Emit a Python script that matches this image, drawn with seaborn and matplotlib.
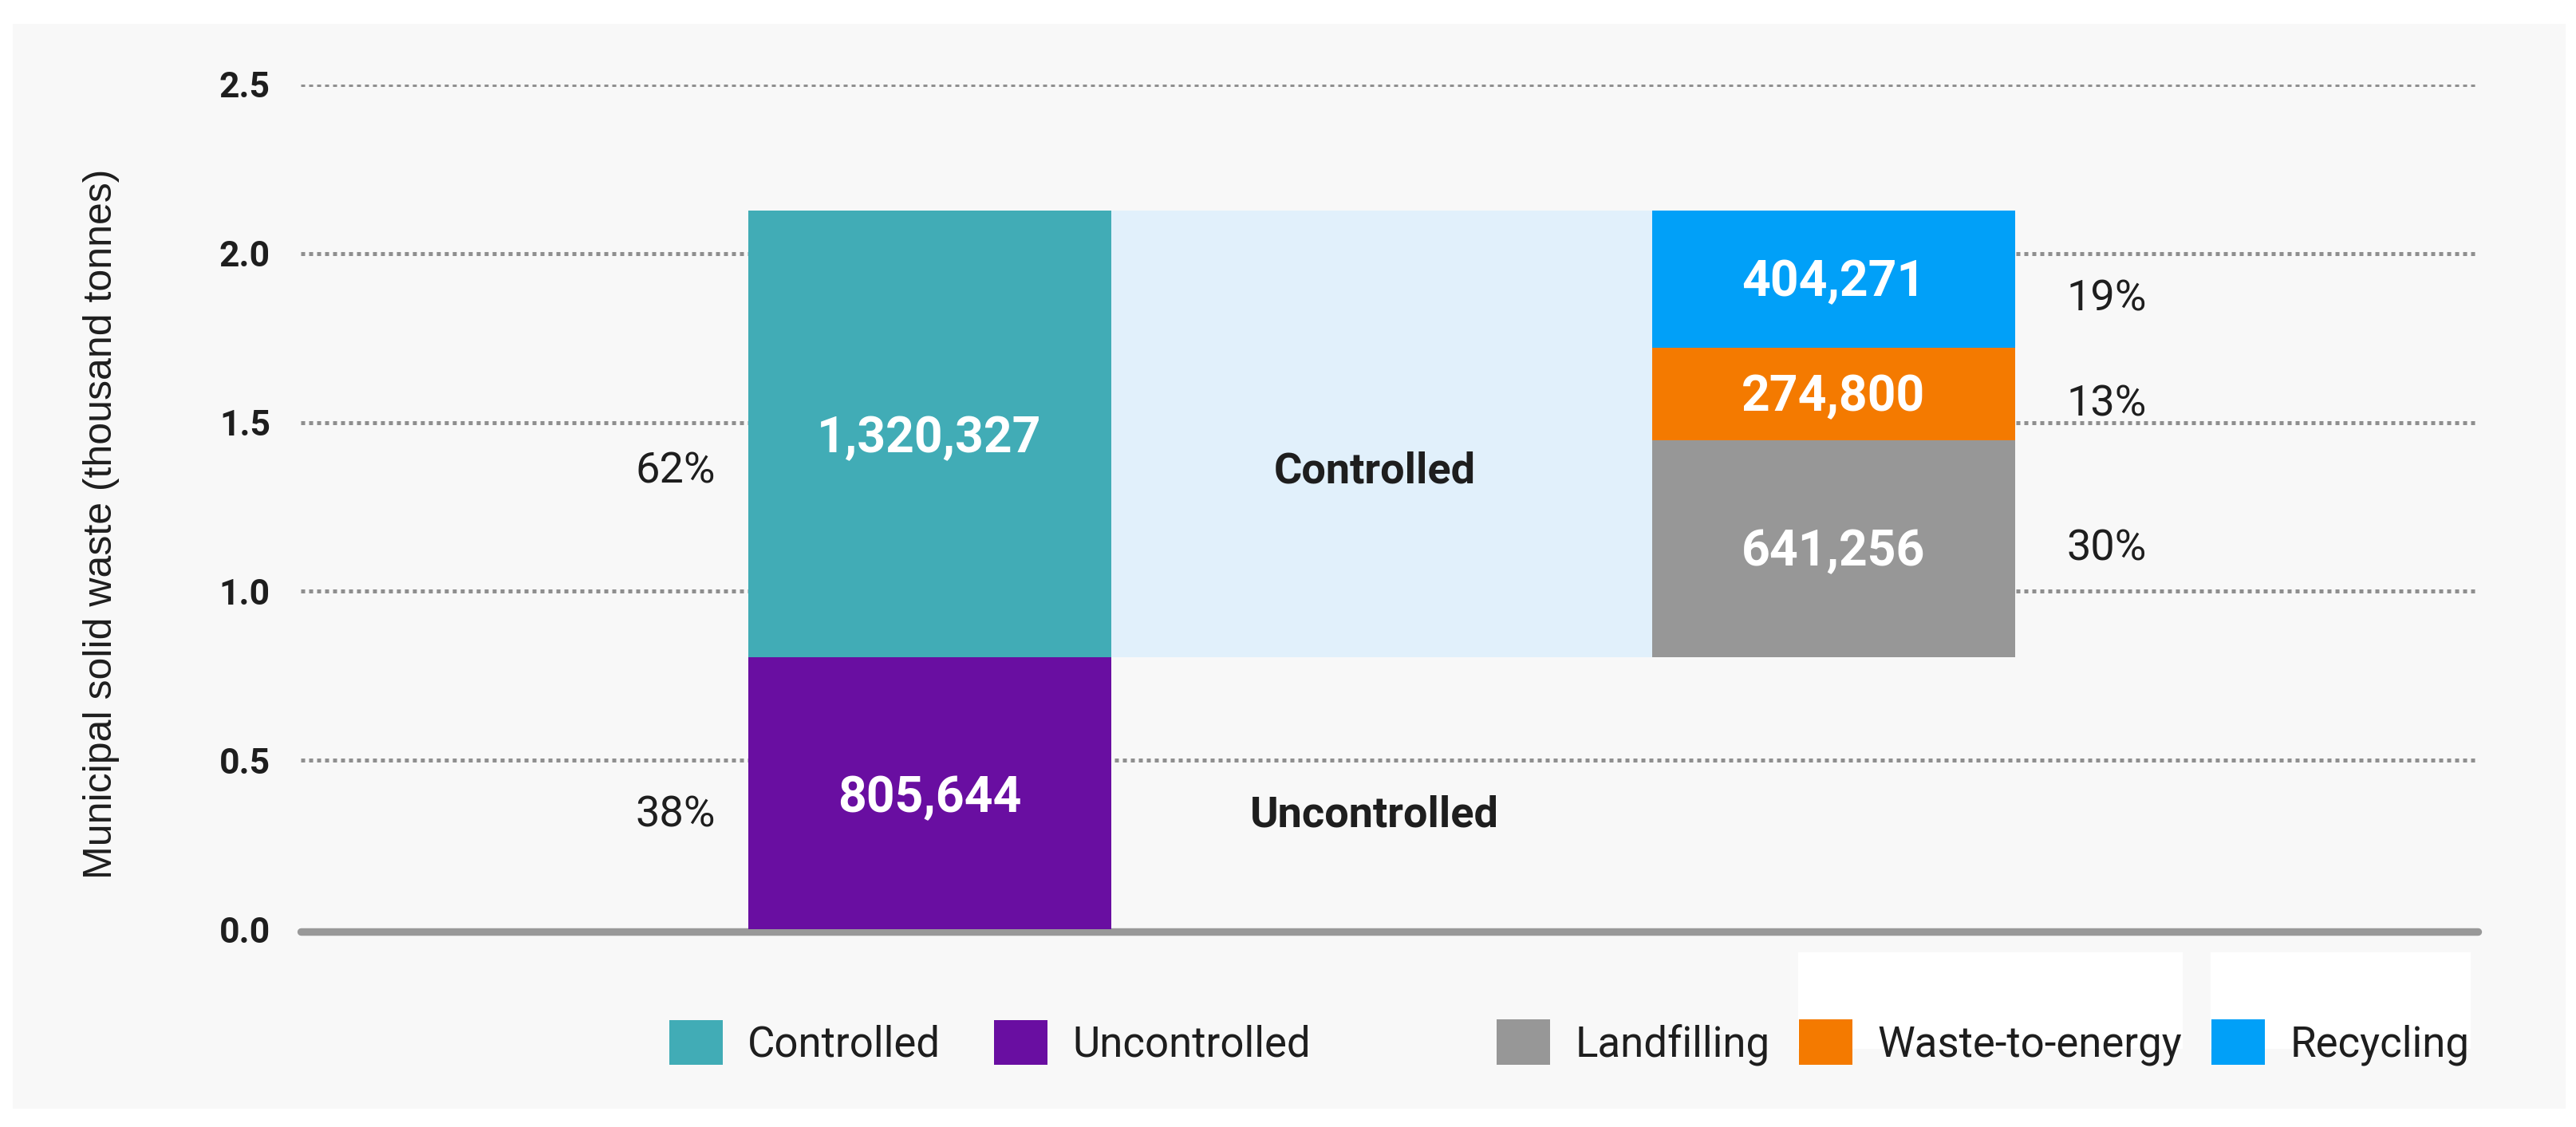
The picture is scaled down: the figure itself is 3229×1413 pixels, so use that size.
import numpy as np
import pandas as pd
import matplotlib
matplotlib.use("Agg")
import matplotlib.pyplot as plt
from matplotlib.patches import Patch, Rectangle
import seaborn as sns

# ---------------- data (thousand tonnes) ----------------
split_labels = ["Uncontrolled", "Controlled"]
split_values = [805644, 1320327]
split_pcts = ["38%", "62%"]

treat_labels = ["Landfilling", "Waste-to-energy", "Recycling"]
treat_values = [641256, 274800, 404271]
treat_pcts = ["30%", "13%", "19%"]

categories = ["Total", "Flow", "Treatment"]
y_ticks = [0.0, 0.5, 1.0, 1.5, 2.0, 2.5]
y_label = "Municipal solid waste (thousand tonnes)"
SCALE = 1e6  # axis shown in units of 1e6

# ---------------- style ----------------
colors = {
    "Controlled": "#41acb6",
    "Uncontrolled": "#690ea1",
    "Landfilling": "#979797",
    "Waste-to-energy": "#f47a00",
    "Recycling": "#01a0f8",
}
band_color = "#e1f0fb"
text_dark = "#1e1e1e"

sns.set_theme(style="white")
plt.rcParams["font.family"] = ["Roboto", "DejaVu Sans"]

W, H, DPI = 3230, 1413, 200
fig = plt.figure(figsize=(W / DPI, H / DPI), dpi=DPI, facecolor="white")

# panel background
fig.patches.append(Rectangle((16 / W, 1 - 1390 / H), (3216 - 16) / W, (1390 - 30) / H,
                             transform=fig.transFigure, facecolor="#f8f8f8",
                             edgecolor="none", zorder=-10))
# white boxes behind two legend entries (as in the reference)
for x0, x1 in [(2254, 2736), (2771, 3097)]:
    fig.patches.append(Rectangle((x0 / W, 1 - 1315 / H), (x1 - x0) / W, (1315 - 1194) / H,
                                 transform=fig.transFigure, facecolor="white",
                                 edgecolor="none", zorder=-5))

ax = fig.add_axes([377 / W, 1 - 1165 / H, (3106 - 377) / W, (1165 - 106) / H])
ax.set_facecolor("none")

bar_w = 0.803


def draw_segment(cat, value, bottom, color, width):
    n0 = len(ax.patches)
    sns.barplot(x=[cat], y=[value / SCALE], order=categories, color=color,
                width=width, saturation=1, errorbar=None, ax=ax,
                linewidth=0, zorder=3)
    for p in ax.patches[n0:]:
        p.set_y(bottom / SCALE)


# left bar: uncontrolled + controlled
bottom = 0
for lab, val in zip(split_labels, split_values):
    draw_segment("Total", val, bottom, colors[lab], bar_w)
    bottom += val

# band linking controlled to the treatment bar
draw_segment("Flow", split_values[1], split_values[0], band_color, 2 - bar_w)

# right bar: treatment of controlled waste
bottom = split_values[0]
for lab, val in zip(treat_labels, treat_values):
    draw_segment("Treatment", val, bottom, colors[lab], bar_w)
    bottom += val

# ---------------- labels ----------------
val_fs, pct_fs, name_fs = 22.5, 19.5, 19.5
bottom = 0
left_dy = [-0.065, -0.11]
for lab, val, pct, dy in zip(split_labels, split_values, split_pcts, left_dy):
    c = (bottom + val / 2) / SCALE
    ax.text(0, c - 0.015, f"{val:,}", ha="center", va="center", color="white",
            fontsize=val_fs, fontweight="bold")
    ax.text(-0.561, c + dy, pct, ha="center", va="center", color=text_dark,
            fontsize=pct_fs)
    ax.text(0.985, c + dy, lab, ha="center", va="center", color=text_dark,
            fontsize=name_fs, fontweight="bold")
    bottom += val

bottom = split_values[0]
right_dy = [0.0, -0.03, -0.06]
for lab, val, pct, dy in zip(treat_labels, treat_values, treat_pcts, right_dy):
    c = (bottom + val / 2) / SCALE
    ax.text(2, c - 0.01, f"{val:,}", ha="center", va="center", color="white",
            fontsize=val_fs, fontweight="bold")
    ax.text(2.605, c + dy, pct, ha="center", va="center", color=text_dark,
            fontsize=pct_fs)
    bottom += val

# ---------------- axes ----------------
ax.set_xlim(-1.391, 3.426)
ax.set_ylim(0, 2.5)
ax.set_xticks([])
ax.set_xlabel("")
ax.set_yticks(y_ticks, labels=[f"{v:.1f}" for v in y_ticks])
for t in ax.get_yticklabels():
    t.set_fontweight("bold")
    t.set_fontsize(16)
    t.set_color(text_dark)
ax.tick_params(axis="y", length=0, pad=13.7)
ax.yaxis.grid(True, linestyle=(0, (1, 1.0)), color="#8f8f8f", linewidth=1.8)
ax.xaxis.grid(False)
ax.set_axisbelow(True)
for s in ax.spines.values():
    s.set_visible(False)
ax.axhline(-0.008, color="#999999", lw=3.4, zorder=2, clip_on=False)

ax.set_ylabel(y_label, fontsize=18, color=text_dark,
              family=["Liberation Sans", "DejaVu Sans"])
ax.yaxis.set_label_coords(-0.0832, 0.48)

# ---------------- legends ----------------
leg_kw = dict(loc="center left", frameon=False, fontsize=19, handlelength=1.27,
              handleheight=1.27, handletextpad=0.59, borderpad=0,
              borderaxespad=0, labelcolor=text_dark)
h1 = [Patch(facecolor=colors[l], edgecolor="none", label=l)
      for l in ["Controlled", "Uncontrolled"]]
fig.legend(handles=h1, ncol=2, columnspacing=1.27,
           bbox_to_anchor=(839 / W, 1 - 1307 / H), **leg_kw)
h2 = [Patch(facecolor=colors[l], edgecolor="none", label=l) for l in treat_labels]
fig.legend(handles=h2, ncol=3, columnspacing=0.7,
           bbox_to_anchor=(1876 / W, 1 - 1307 / H), **leg_kw)

# the baseline replaces the gridline at zero
fig.canvas.draw()
for tick in ax.yaxis.get_major_ticks():
    if abs(tick.get_loc()) < 1e-9:
        tick.gridline.set_visible(False)

fig.savefig("out.png", dpi=DPI, facecolor="white")
